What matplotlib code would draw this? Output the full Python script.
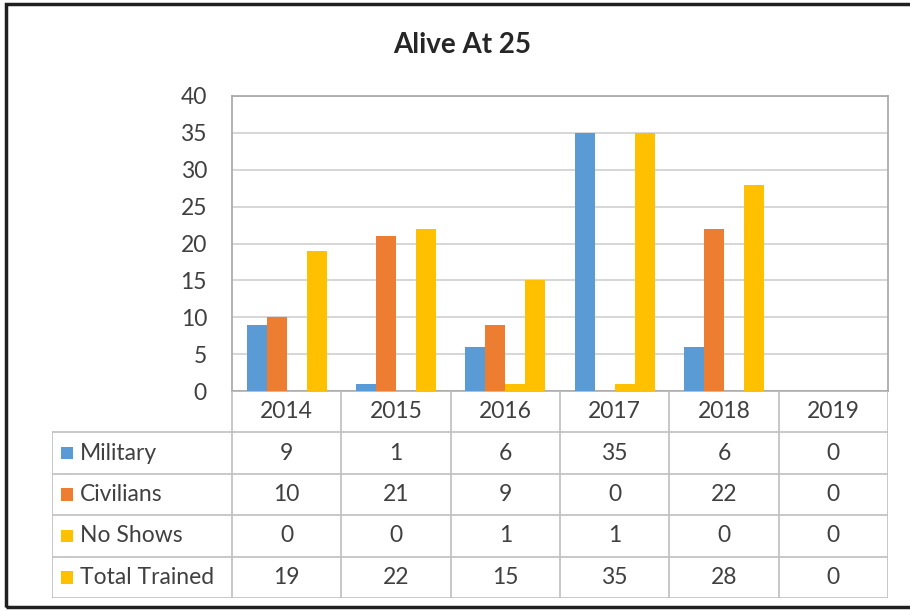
import numpy as np
import matplotlib
matplotlib.use("Agg")
from matplotlib import pyplot as plt
from matplotlib.patches import Rectangle

plt.rcParams['font.family'] = ['Lato', 'DejaVu Sans']

# data
years = ['2014', '2015', '2016', '2017', '2018', '2019']
military = [9, 1, 6, 35, 6, 0]
civilians = [10, 21, 9, 0, 22, 0]
no_shows = [0, 0, 1, 1, 0, 0]
total_trained = [19, 22, 15, 35, 28, 0]

series_names = ['Military', 'Civilians', 'No Shows', 'Total Trained']
series_values = [military, civilians, no_shows, total_trained]
colors = ['#5B9BD5', '#ED7D31', '#FFC000', '#FFC000']

text_col = '#404040'
line_col = '#BFBFBF'
fs = 16.5

W, H = 910, 611
fig = plt.figure(figsize=(W / 100, H / 100), dpi=100)


def fx(px):
    return px / W


def fy(py):
    return 1 - py / H


# outer frame
fig.patches.append(Rectangle((fx(6), fy(607)), fx(940), fy(4) - fy(607),
                             transform=fig.transFigure, fill=False,
                             edgecolor='#202020', linewidth=2.5))

# main chart
left, right, top, bottom = 232, 888, 96, 391
ax = fig.add_axes([fx(left), fy(bottom), fx(right - left), fy(top) - fy(bottom)])
x = np.arange(len(years))
bw = 0.183
for i, (vals, c) in enumerate(zip(series_values, colors)):
    ax.bar(x + (i - 1.5) * bw, vals, width=bw, color=c, zorder=3)

ax.set_xlim(-0.5, len(years) - 0.5)
ax.set_ylim(0, 40)
ax.set_yticks(range(0, 41, 5))
ax.set_xticks([])
ax.tick_params(axis='y', length=0, pad=18, labelsize=fs, labelcolor=text_col)
ax.grid(axis='y', color='#D0D0D0', linewidth=1.2, zorder=0)
for s in ax.spines.values():
    s.set_color('#A6A6A6')
    s.set_linewidth(1.2)

fig.text(fx(462), fy(45), 'Alive At 25', ha='center', va='center',
         fontsize=20, fontweight='bold', color='#262626')

# data table below the chart
tleft, tbottom = 52, 598
cat_px = (right - left) / len(years)
x0 = -0.5 - (left - tleft) / cat_px
tax = fig.add_axes([fx(tleft), fy(tbottom), fx(right - tleft), fy(bottom) - fy(tbottom)])
tax.set_xlim(x0, len(years) - 0.5)
tax.set_ylim(5, 0)
tax.axis('off')

lw = 1.2
# horizontal lines
tax.plot([-0.5, len(years) - 0.5], [0, 0], color=line_col, lw=lw)
for r in range(1, 6):
    tax.plot([x0, len(years) - 0.5], [r, r], color=line_col, lw=lw)
# vertical lines
tax.plot([x0, x0], [1, 5], color=line_col, lw=lw)
for b in np.arange(-0.5, len(years), 1.0):
    tax.plot([b, b], [0, 5], color=line_col, lw=lw)

for j, yr in enumerate(years):
    tax.text(j, 0.5, yr, ha='center', va='center', fontsize=fs, color=text_col)

mark_w = 12 / cat_px
for i, (name, vals, c) in enumerate(zip(series_names, series_values, colors)):
    row = i + 1.5
    tax.add_patch(Rectangle((x0 + 9 / cat_px, row - 0.15), mark_w, 0.30,
                            color=c, lw=0))
    tax.text(x0 + 28 / cat_px, row, name, ha='left', va='center',
             fontsize=fs, color=text_col)
    for j, v in enumerate(vals):
        tax.text(j, row, str(v), ha='center', va='center', fontsize=fs,
                 color=text_col)

fig.savefig('out.png', dpi=100)
